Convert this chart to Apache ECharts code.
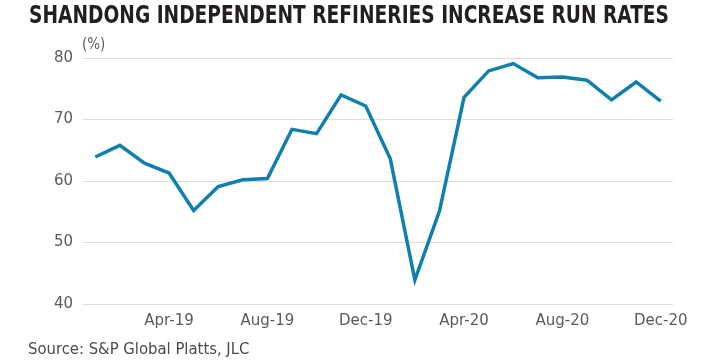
<!DOCTYPE html>
<html><head><meta charset="utf-8">
<script src="https://cdn.jsdelivr.net/npm/echarts@6/dist/echarts.min.js"></script>
<style>html,body{margin:0;padding:0;background:#fff}#c{width:717px;height:361px}</style>
</head><body><div id="c"></div>
<script>
const categories = ['Jan-19','Feb-19','Mar-19','Apr-19','May-19','Jun-19','Jul-19','Aug-19','Sep-19','Oct-19','Nov-19','Dec-19',
  'Jan-20','Feb-20','Mar-20','Apr-20','May-20','Jun-20','Jul-20','Aug-20','Sep-20','Oct-20','Nov-20','Dec-20'];
const runRates = [63.9,65.8,62.9,61.3,55.2,59.1,60.2,60.4,68.4,67.7,74.0,72.2,
  63.6,43.9,55.1,73.6,77.9,79.1,76.8,76.9,76.4,73.2,76.1,73.0];
const shownLabels = ['Apr-19','Aug-19','Dec-19','Apr-20','Aug-20','Dec-20'];
const titleText = 'SHANDONG INDEPENDENT REFINERIES INCREASE RUN RATES';
const unitText = '(%)';
const sourceText = 'Source: S&P Global Platts, JLC';

const titleFont = 'bold 24px "DejaVu Sans Condensed"';
const mctx = document.createElement('canvas').getContext('2d');
mctx.font = titleFont;
const titleW = mctx.measureText(titleText).width;
const titleScale = 640 / titleW;

const chart = echarts.init(document.getElementById('c'));
chart.setOption({
  animation: false,
  graphic: [
    {type: 'text', left: 29, top: 5, scaleX: titleScale, originX: 0,
     style: {text: titleText, font: titleFont, fill: '#231f20'}},
    {type: 'text', left: 28, top: 341,
     style: {text: sourceText, font: '16.5px "DejaVu Sans Condensed"', fill: '#4a4a4a'}}
  ],
  grid: {left: 83, right: 44, top: 58, bottom: 57, containLabel: false},
  xAxis: {
    type: 'category', data: categories, boundaryGap: true,
    axisLine: {show: false}, axisTick: {show: false},
    axisLabel: {
      interval: 0, margin: 10, color: '#5a5a5a',
      fontFamily: 'DejaVu Sans', fontSize: 15,
      formatter: v => shownLabels.includes(v) ? v : ''
    }
  },
  yAxis: {
    type: 'value', min: 40, max: 80, interval: 10,
    name: unitText, nameLocation: 'end', nameGap: 5,
    nameTextStyle: {color: '#5a5a5a', fontFamily: 'DejaVu Sans Condensed', fontSize: 15, align: 'left', padding: [0,0,0,-1]},
    axisLine: {show: false}, axisTick: {show: false},
    axisLabel: {color: '#5a5a5a', fontFamily: 'DejaVu Sans', fontSize: 15, margin: 10},
    splitLine: {lineStyle: {color: '#dcdcdc', width: 1}}
  },
  series: [{
    type: 'line', data: runRates, symbol: 'none',
    lineStyle: {color: '#0f80ad', width: 3.5, join: 'miter'}
  }]
});
</script></body></html>
